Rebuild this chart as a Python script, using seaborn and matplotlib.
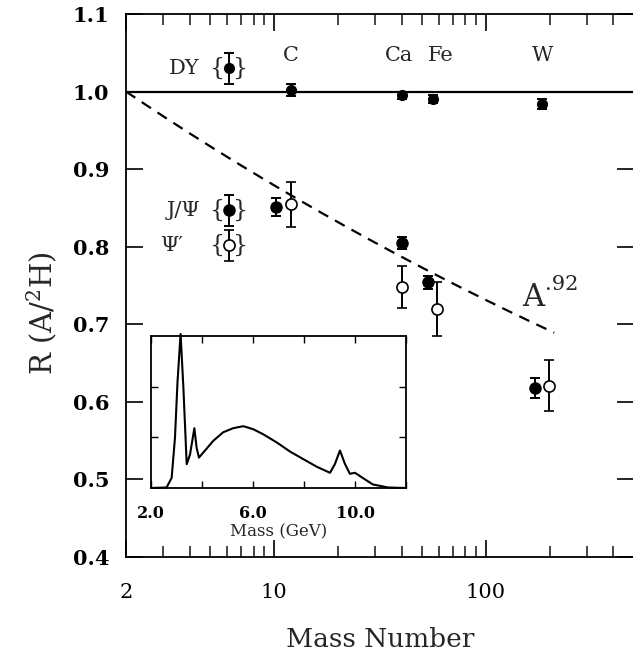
import numpy as np
import pandas as pd
import matplotlib
matplotlib.use("Agg")
import matplotlib.pyplot as plt
import seaborn as sns
from matplotlib.ticker import FixedLocator, NullFormatter, FixedFormatter

# ---------------- data ----------------
nuclei = ["C", "Ca", "Fe", "W"]
nucleus_label_A = [12, 38.7, 61, 186]

# Drell-Yan ratios
dy_A = [12, 40, 56, 184]
dy_R = [1.002, 0.995, 0.990, 0.984]
dy_err = [0.008, 0.005, 0.005, 0.006]

# J/psi ratios (filled, drawn slightly left)
jpsi_A = [10.2, 40, 53, 170]
jpsi_R = [0.851, 0.805, 0.754, 0.618]
jpsi_err = [0.012, 0.008, 0.008, 0.013]

# psi' ratios (open, drawn slightly right)
psip_A = [12, 40, 59, 198]
psip_R = [0.855, 0.748, 0.720, 0.621]
psip_err = [0.029, 0.027, 0.035, 0.033]

# A^alpha curve
alpha = 0.92
curve_A_range = [2, 210]

# inset dimuon mass spectrum (arbitrary units)
spec_mass = [2.0, 2.61, 2.81, 2.94, 3.04, 3.16, 3.27, 3.40, 3.53, 3.70,
             3.79, 3.88, 4.05, 4.44, 4.83, 5.22, 5.62, 6.01, 6.40, 6.93,
             7.45, 7.97, 8.50, 9.02, 9.21, 9.41, 9.61, 9.80, 10.0, 10.3,
             10.7, 11.3, 12.0]
spec_yield = [0.0, 0.01, 0.2, 0.99, 2.1, 3.04, 1.98, 0.47, 0.66, 1.18,
              0.79, 0.60, 0.70, 0.93, 1.10, 1.18, 1.22, 1.16, 1.06, 0.90,
              0.72, 0.57, 0.42, 0.30, 0.47, 0.74, 0.47, 0.28, 0.30, 0.20,
              0.07, 0.01, 0.0]

y_ticks = [0.4, 0.5, 0.6, 0.7, 0.8, 0.9, 1.0, 1.1]
x_major = [2, 10, 100]
x_labels = ["2", "10", "100"]

# ---------------- style ----------------
sns.set_theme(style="ticks")
plt.rcParams["font.family"] = ["DejaVu Serif"]
plt.rcParams["mathtext.fontset"] = "dejavuserif"
plt.rcParams["axes.linewidth"] = 1.3

W, H = 633, 654
fig = plt.figure(figsize=(W / 100, H / 100), dpi=100)
ax = fig.add_axes([126 / W, 1 - 557 / H, (634 - 126) / W, (557 - 14) / H])

ax.set_xscale("log")
ax.set_xlim(2, 500)
ax.set_ylim(0.4, 1.1)

# reference line and A^alpha curve
ax.axhline(1.0, color="black", lw=1.6, zorder=2)
cA = np.geomspace(curve_A_range[0], curve_A_range[1], 200)
curve_df = pd.DataFrame({"A": cA, "R": (cA / 2.0) ** (alpha - 1.0)})
sns.lineplot(data=curve_df, x="A", y="R", ax=ax, color="black", lw=1.6,
             linestyle=(0, (5, 3.5)), zorder=2)

ekw = dict(ecolor="black", elinewidth=1.4, capsize=3.6, capthick=1.4, ls="none")
ax.errorbar(dy_A, dy_R, yerr=dy_err, fmt="o", ms=7, mfc="black", mec="black", **ekw, zorder=4)
ax.errorbar(jpsi_A, jpsi_R, yerr=jpsi_err, fmt="o", ms=8, mfc="black", mec="black", **ekw, zorder=4)
ax.errorbar(psip_A, psip_R, yerr=psip_err, fmt="o", ms=8, mfc="white", mec="black", mew=1.2, **ekw, zorder=4)

# nucleus labels
for name, lx in zip(nuclei, nucleus_label_A):
    ax.text(lx, 1.047, name, ha="center", va="center", fontsize=15)

# legend-like symbols
leg_A = 6.1
ax.text(3.75, 1.030, "DY", ha="center", va="center", fontsize=15)
ax.text(3.75, 0.847, "J/Ψ", ha="center", va="center", fontsize=15)
ax.text(3.3, 0.802, "Ψ′", ha="center", va="center", fontsize=15)
for yy in [1.030, 0.847, 0.802]:
    ax.text(leg_A * 0.88, yy, "{", ha="center", va="center", fontsize=17)
    ax.text(leg_A * 1.14, yy, "}", ha="center", va="center", fontsize=17)
ax.errorbar([leg_A], [1.030], yerr=[0.02], fmt="o", ms=7, mfc="black", mec="black", **ekw)
ax.errorbar([leg_A], [0.847], yerr=[0.02], fmt="o", ms=8, mfc="black", mec="black", **ekw)
ax.errorbar([leg_A], [0.802], yerr=[0.02], fmt="o", ms=8, mfc="white", mec="black", mew=1.2, **ekw)

ax.text(168, 0.734, "A", ha="center", va="center", fontsize=22)
ax.annotate(".92", xy=(168, 0.734), xytext=(8, 10), textcoords="offset points",
            ha="left", va="center", fontsize=15)

# ticks
ax.xaxis.set_major_locator(FixedLocator(x_major))
ax.xaxis.set_major_formatter(FixedFormatter(x_labels))
minors = [m * d for d in (1, 10, 100) for m in range(2, 10) if 2 < m * d <= 500 and m * d not in (10, 100)]
ax.xaxis.set_minor_locator(FixedLocator(minors))
ax.xaxis.set_minor_formatter(NullFormatter())
ax.set_yticks(y_ticks)
ax.set_yticklabels([f"{v:.1f}" for v in y_ticks], fontweight="bold")
ax.tick_params(axis="both", which="major", direction="in", top=True, right=True,
               length=12, width=1.2, colors="black")
ax.tick_params(axis="x", which="minor", direction="in", top=True, bottom=True,
               length=8, width=1.2)
ax.tick_params(axis="y", which="major", labelsize=15, pad=12)
ax.tick_params(axis="x", which="major", labelsize=15, pad=19)

ax.set_xlabel("Mass Number", fontsize=19, labelpad=18)
ax.set_ylabel(r"R (A/$^2$H)", fontsize=21)
ax.yaxis.set_label_coords(-0.132, 0.45)
for s in ax.spines.values():
    s.set_color("black")

# ---------------- inset ----------------
ins = fig.add_axes([151 / W, 1 - 488 / H, 255 / W, 152 / H])
spec_df = pd.DataFrame({"mass": spec_mass, "yield": spec_yield})
sns.lineplot(data=spec_df, x="mass", y="yield", ax=ins, color="black", lw=1.5)
for l in ins.get_lines():
    l.set_clip_on(False)
ins.set_xlim(2, 12)
ins.set_ylim(0, 3)
ins.set_xticks([2, 4, 6, 8, 10, 12])
ins.set_xticklabels(["2.0", "", "6.0", "", "10.0", ""], fontweight="bold")
ins.set_yticks([1, 2])
ins.set_yticklabels([])
ins.tick_params(axis="both", direction="in", top=True, right=True, length=5,
                width=1.0, labelsize=11.5, pad=12, colors="black")
ins.set_xlabel("Mass (GeV)", fontsize=12, labelpad=1)
ins.set_ylabel("")
for s in ins.spines.values():
    s.set_color("black")
    s.set_linewidth(1.3)

fig.savefig("out.png", dpi=100)
